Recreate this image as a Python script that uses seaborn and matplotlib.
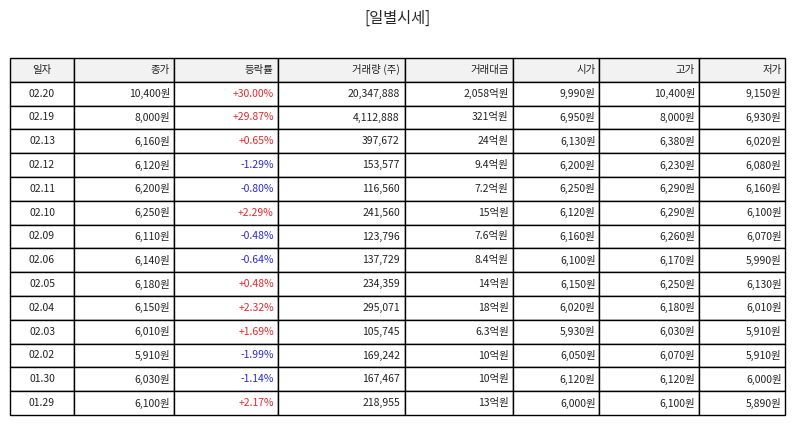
import matplotlib
matplotlib.use("Agg")
import matplotlib.pyplot as plt
import seaborn as sns

sns.set_theme(style="white")
plt.rcParams['font.family'] = ['Noto Sans CJK KR', 'DejaVu Sans']

headers = ["일자", "종가", "등락률", "거래량 (주)", "거래대금", "시가", "고가", "저가"]
dates = ["02.20","02.19","02.13","02.12","02.11","02.10","02.09","02.06","02.05","02.04","02.03","02.02","01.30","01.29"]
close = ["10,400원","8,000원","6,160원","6,120원","6,200원","6,250원","6,110원","6,140원","6,180원","6,150원","6,010원","5,910원","6,030원","6,100원"]
change = ["+30.00%","+29.87%","+0.65%","-1.29%","-0.80%","+2.29%","-0.48%","-0.64%","+0.48%","+2.32%","+1.69%","-1.99%","-1.14%","+2.17%"]
volume = ["20,347,888","4,112,888","397,672","153,577","116,560","241,560","123,796","137,729","234,359","295,071","105,745","169,242","167,467","218,955"]
amount = ["2,058억원","321억원","24억원","9.4억원","7.2억원","15억원","7.6억원","8.4억원","14억원","18억원","6.3억원","10억원","10억원","13억원"]
open_ = ["9,990원","6,950원","6,130원","6,200원","6,250원","6,120원","6,160원","6,100원","6,150원","6,020원","5,930원","6,050원","6,120원","6,000원"]
high = ["10,400원","8,000원","6,380원","6,230원","6,290원","6,290원","6,260원","6,170원","6,250원","6,180원","6,030원","6,070원","6,120원","6,100원"]
low = ["9,150원","6,930원","6,020원","6,080원","6,160원","6,100원","6,070원","5,990원","6,130원","6,010원","5,910원","5,910원","6,000원","5,890원"]

col_px = [64, 100, 104, 127, 108, 86, 100, 86]
tot = sum(col_px)
widths = [w / tot for w in col_px]

rows = list(zip(dates, close, change, volume, amount, open_, high, low))

fig = plt.figure(figsize=(7.94, 4.25), dpi=100)
fig.text(0.5, 1 - 18/425, "[일별시세]", ha="center", va="center", fontsize=11)
ax = fig.add_axes([10/794, 10/425, tot/794, 357/425])
ax.axis("off")

tbl = ax.table(cellText=[list(r) for r in rows], colLabels=headers, colWidths=widths,
               loc="upper left", bbox=[0, 0, 1, 1])
tbl.auto_set_font_size(False)
tbl.set_fontsize(7.5)
for (r, c), cell in tbl.get_celld().items():
    cell.set_edgecolor("black")
    cell.set_linewidth(1.0)
    cell.PAD = 0.04
    t = cell.get_text()
    if r == 0:
        cell.set_facecolor("#f2f2f2")
    if c == 0 or r == 0 and c == 0:
        t.set_ha("center"); cell._loc = "center"
    else:
        t.set_ha("right"); cell._loc = "right"
    if r > 0 and c == 2:
        t.set_color("#e8262b" if change[r-1].startswith("+") else "#2a2ad6")
    t.set_color(t.get_color() if (r > 0 and c == 2) else "#222222")

fig.savefig("out.png", dpi=100)
